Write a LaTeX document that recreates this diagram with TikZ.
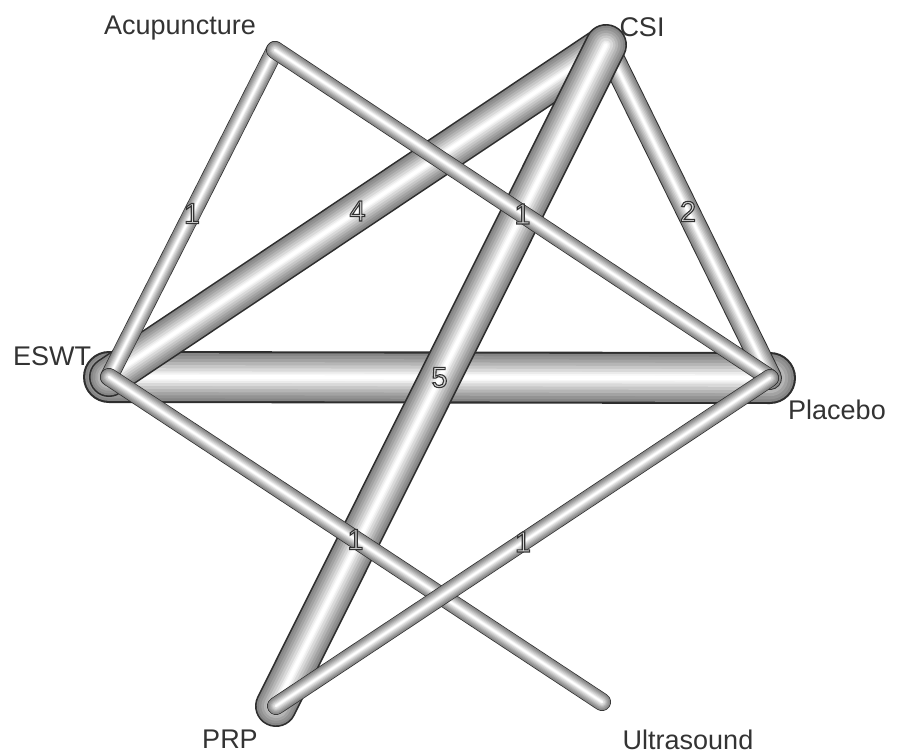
\documentclass[tikz,border=0pt]{standalone}
\usepackage{xcolor}
\usepackage{fontspec}
\setmainfont{Liberation Sans}
\usepackage{tikz}
\usetikzlibrary{calc}
\definecolor{txtgray}{HTML}{333333}
\definecolor{rim}{HTML}{2E2E2E}
% outlined edge numbers (fill + stroke text mode)
\newcommand{\outl}[1]{{\color{gray!30}\special{pdf:code 0.2 G 2 Tr 1.1 w}#1\special{pdf:code 0 Tr}}}
\tikzset{
  ring/.style 2 args={preaction={draw=#1, line cap=round, line join=round, line width=#2}},
  tube/.style={
    line cap=round, line join=round, draw=white, line width=0.08*#1,
    ring={rim}{#1},
    ring={gray!95}{0.92*#1},
    ring={gray!85}{0.82*#1},
    ring={gray!72}{0.7*#1},
    ring={gray!58}{0.58*#1},
    ring={gray!44}{0.46*#1},
    ring={gray!30}{0.34*#1},
    ring={gray!16}{0.22*#1},
    ring={gray!6}{0.14*#1},
  },
  trt/.style={font=\fontsize{27}{30}\selectfont, text=txtgray, inner sep=0pt},
  num/.style={font=\fontsize{29}{30}\selectfont, inner sep=0pt},
}

\begin{document}
\begin{tikzpicture}[x=1pt, y=-1pt]
  \useasboundingbox (0,0) rectangle (898,755);

  % treatments
  \coordinate (acup) at (275,50);
  \coordinate (csi) at (606,45);
  \coordinate (eswt) at (109,377);
  \coordinate (placebo) at (770,378);
  \coordinate (prp) at (276,706);
  \coordinate (ultra) at (602,702);

  \node[trt] (acupL) at (180,28) {Acupuncture};
  \node[trt] (csiL) at (642,27) {CSI};
  \node[trt] (eswtL) at (52,356) {ESWT};
  \node[trt] (placeboL) at (837,410) {Placebo};
  \node[trt] (prpL) at (230,739) {PRP};
  \node[trt] (ultraL) at (688,740) {Ultrasound};

  % comparisons
  \draw[tube=52] (eswt) -- (placebo);
  \draw[tube=40] (eswt) -- (csi);
  \draw[tube=24] (csi) -- (placebo);
  \draw[tube=42] (csi) -- (prp);
  \draw[tube=18] (eswt) -- (acup);
  \draw[tube=18] (acup) -- (placebo);
  \draw[tube=18] (eswt) -- (ultra);
  \draw[tube=18] (prp) -- (placebo);

  % number of trials
  \path (eswt) -- node[num] (n1) {\outl{1}} (acup);
  \path (eswt) -- node[num] (n2) {\outl{4}} (csi);
  \path (acup) -- node[num] (n3) {\outl{1}} (placebo);
  \path (csi) -- node[num] (n4) {\outl{2}} (placebo);
  \path (eswt) -- node[num] (n5) {\outl{5}} (placebo);
  \path (eswt) -- node[num] (n6) {\outl{1}} (ultra);
  \path (prp) -- node[num] (n7) {\outl{1}} (placebo);

\end{tikzpicture}
\end{document}
